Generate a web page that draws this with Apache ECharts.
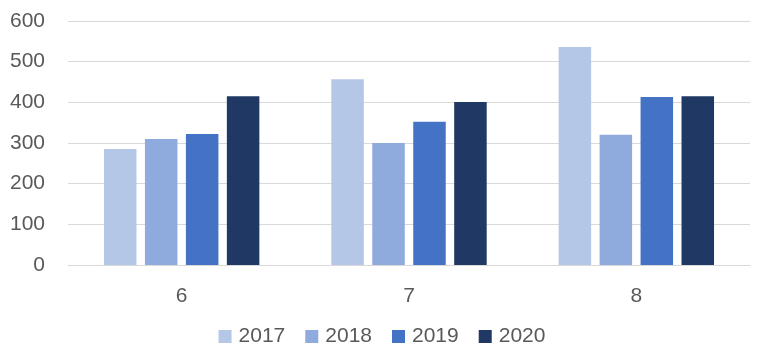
<!DOCTYPE html>
<html>
<head>
<meta charset="utf-8">
<script src="https://cdn.jsdelivr.net/npm/echarts@6/dist/echarts.min.js"></script>
<style>html,body{margin:0;padding:0;background:#fff}#c{width:764px;height:364px}</style>
</head>
<body>
<div id="c"></div>
<script>
const categories = ['6', '7', '8'];
const seriesNames = ['2017', '2018', '2019', '2020'];
const v2017 = [285, 457, 536];
const v2018 = [310, 300, 320];
const v2019 = [322, 352, 413];
const v2020 = [415, 401, 415];
const colors = ['#B4C7E7', '#8FAADC', '#4472C4', '#203864'];
const values = [v2017, v2018, v2019, v2020];

const chart = echarts.init(document.getElementById('c'));
const font = '"Liberation Sans", Arial, sans-serif';
chart.setOption({
  animation: false,
  color: colors,
  grid: { left: 68, right: 14, top: 21, bottom: 99, containLabel: false },
  legend: {
    bottom: 12,
    left: 'center',
    itemWidth: 13,
    itemHeight: 13,
    itemGap: 20,
    icon: 'rect',
    textStyle: { color: '#595959', fontSize: 21, fontFamily: font, padding: [0, 0, 0, 2] },
    data: seriesNames
  },
  xAxis: {
    type: 'category',
    data: categories,
    axisLine: { show: true, lineStyle: { color: '#D9D9D9', width: 1 } },
    axisTick: { show: false },
    axisLabel: { color: '#595959', fontSize: 21, fontFamily: font, margin: 21 }
  },
  yAxis: {
    type: 'value',
    min: 0, max: 600, interval: 100,
    axisLine: { show: false },
    axisTick: { show: false },
    splitLine: { lineStyle: { color: '#D9D9D9', width: 1 } },
    axisLabel: { color: '#595959', fontSize: 21, fontFamily: font, margin: 23 }
  },
  series: seriesNames.map((n, i) => ({
    name: n,
    type: 'bar',
    data: values[i],
    barWidth: '14.3%',
    barGap: '26%',
    itemStyle: { color: colors[i] }
  }))
});
</script>
</body>
</html>
